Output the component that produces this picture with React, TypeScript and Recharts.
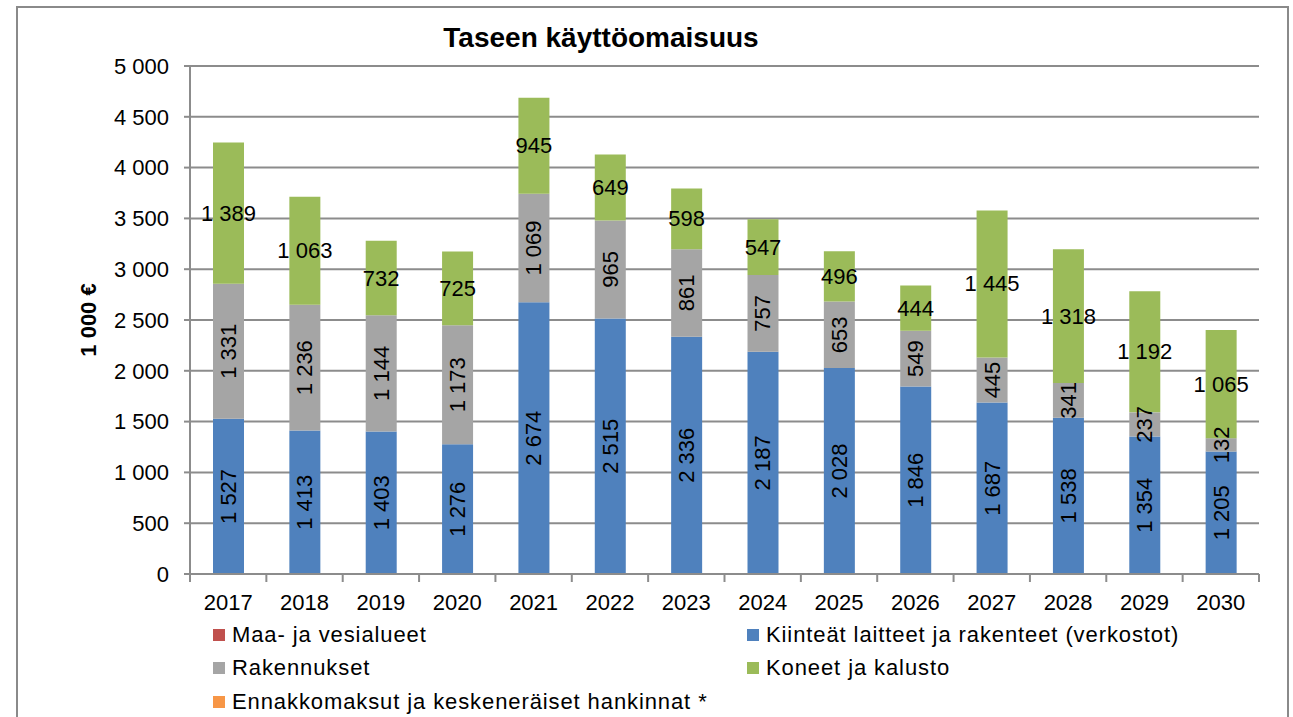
import React from 'react';
import { BarChart, Bar, XAxis, YAxis, CartesianGrid, LabelList } from 'recharts';

const years = ['2017', '2018', '2019', '2020', '2021', '2022', '2023', '2024', '2025', '2026', '2027', '2028', '2029', '2030'];
const maaJaVesialueet = [0, 0, 0, 0, 0, 0, 0, 0, 0, 0, 0, 0, 0, 0];
const kiinteatLaitteet = [1527, 1413, 1403, 1276, 2674, 2515, 2336, 2187, 2028, 1846, 1687, 1538, 1354, 1205];
const rakennukset = [1331, 1236, 1144, 1173, 1069, 965, 861, 757, 653, 549, 445, 341, 237, 132];
const koneetJaKalusto = [1389, 1063, 732, 725, 945, 649, 598, 547, 496, 444, 1445, 1318, 1192, 1065];
const ennakkomaksut = [0, 0, 0, 0, 0, 0, 0, 0, 0, 0, 0, 0, 0, 0];
const yTicks = [0, 500, 1000, 1500, 2000, 2500, 3000, 3500, 4000, 4500, 5000];

const seriesNames = {
  maa: 'Maa- ja vesialueet',
  kiint: 'Kiinteät laitteet ja rakenteet (verkostot)',
  rak: 'Rakennukset',
  kon: 'Koneet ja kalusto',
  enn: 'Ennakkomaksut ja keskeneräiset hankinnat *',
};
const colors = { maa: '#C0504D', kiint: '#4F81BD', rak: '#A5A5A5', kon: '#9BBB59', enn: '#F79646' };

const data = years.map((y, i) => ({
  year: y,
  maa: maaJaVesialueet[i],
  kiint: kiinteatLaitteet[i],
  rak: rakennukset[i],
  kon: koneetJaKalusto[i],
  enn: ennakkomaksut[i],
}));

const FONT = '"Liberation Sans", Arial, sans-serif';
const GRID = '#8c8c8c';

const fmt = (n: number) => {
  const v = Math.round(Number(n));
  if (v >= 1000) return `${Math.floor(v / 1000)} ${String(v % 1000).padStart(3, '0')}`;
  return String(v);
};

const VLabel = (props: any) => {
  const { x, y, width, height, value } = props;
  if (!value) return null;
  const cx = Number(x) + Number(width) / 2;
  const cy = Number(y) + Number(height) / 2;
  return (
    <text x={cx} y={cy} transform={`rotate(-90 ${cx} ${cy})`} textAnchor="middle" dominantBaseline="central"
      fontSize={22} fill="#000" fontFamily={FONT}>{fmt(value)}</text>
  );
};

const HLabel = (props: any) => {
  const { x, y, width, height, value } = props;
  if (!value) return null;
  const cx = Number(x) + Number(width) / 2;
  const cy = Number(y) + Number(height) / 2;
  return (
    <text x={cx} y={cy} textAnchor="middle" dominantBaseline="central"
      fontSize={22} fill="#000" fontFamily={FONT}>{fmt(value)}</text>
  );
};

const XTick = (props: any) => {
  const { x, y, payload, index } = props;
  const half = payload && payload.offset ? payload.offset : 38.2;
  return (
    <g>
      <line x1={x - half} x2={x - half} y1={y} y2={y + 8} stroke={GRID} strokeWidth={2} />
      {index === years.length - 1 && (
        <line x1={x + half} x2={x + half} y1={y} y2={y + 8} stroke={GRID} strokeWidth={2} />
      )}
      <text x={x} y={y + 28} textAnchor="middle" dominantBaseline="central" fontSize={22} fill="#000" fontFamily={FONT}>
        {payload.value}
      </text>
    </g>
  );
};

const legendItems: [keyof typeof colors, number, number][] = [
  ['maa', 213, 635],
  ['kiint', 747, 635],
  ['rak', 213, 668],
  ['kon', 747, 668],
  ['enn', 213, 702],
];

export default function App() {
  return (
    <div style={{ position: 'absolute', left: 0, top: 0, width: 1293, height: 717, background: '#fff', overflow: 'hidden', fontFamily: FONT }}>
      <div style={{ position: 'absolute', left: 16, top: 6, width: 1273, height: 760, border: '2px solid #8a8a8a', boxSizing: 'border-box' }} />
      <div style={{ position: 'absolute', left: 0, width: 1202, top: 23, lineHeight: '30px', textAlign: 'center', fontWeight: 'bold', fontSize: 28, color: '#000' }}>
        Taseen käyttöomaisuus
      </div>
      <div style={{ position: 'absolute', left: 0, top: 0 }}>
        <BarChart width={1293} height={717} data={data} margin={{ top: 66, right: 34, bottom: 113, left: 0 }}>
          <CartesianGrid vertical={false} stroke={GRID} strokeWidth={2} />
          <XAxis dataKey="year" height={30} tickLine={false} tickSize={0} tickMargin={0} axisLine={{ stroke: GRID, strokeWidth: 2 }}
            tick={<XTick />} interval={0} />
          <YAxis width={190} domain={[0, 5000]} ticks={yTicks} interval={0} tickFormatter={fmt}
            tickSize={6} tickMargin={15} tickLine={{ stroke: GRID, strokeWidth: 2 }} axisLine={{ stroke: GRID, strokeWidth: 2 }}
            tick={{ fontSize: 22, fill: '#000', fontFamily: FONT }}
            label={{
              content: (p: any) => {
                const vb = p.viewBox || {};
                const cy = (vb.y || 66) + (vb.height || 508) / 2;
                return (
                  <text x={88} y={cy} transform={`rotate(-90 88 ${cy})`} textAnchor="middle" dominantBaseline="central"
                    fontSize={22} fontWeight="bold" fill="#000" fontFamily={FONT}>1 000 €</text>
                );
              },
            }} />
          <Bar dataKey="maa" name={seriesNames.maa} stackId="a" fill={colors.maa} barSize={31} isAnimationActive={false} />
          <Bar dataKey="kiint" name={seriesNames.kiint} stackId="a" fill={colors.kiint} barSize={31} isAnimationActive={false}>
            <LabelList dataKey="kiint" content={<VLabel />} />
          </Bar>
          <Bar dataKey="rak" name={seriesNames.rak} stackId="a" fill={colors.rak} barSize={31} isAnimationActive={false}>
            <LabelList dataKey="rak" content={<VLabel />} />
          </Bar>
          <Bar dataKey="kon" name={seriesNames.kon} stackId="a" fill={colors.kon} barSize={31} isAnimationActive={false}>
            <LabelList dataKey="kon" content={<HLabel />} />
          </Bar>
          <Bar dataKey="enn" name={seriesNames.enn} stackId="a" fill={colors.enn} barSize={31} isAnimationActive={false} />
        </BarChart>
      </div>
      {legendItems.map(([key, lx, ly]) => (
        <div key={key} style={{ position: 'absolute', left: lx, top: ly - 14, height: 28, display: 'flex', alignItems: 'center', whiteSpace: 'nowrap' }}>
          <span style={{ display: 'inline-block', width: 12, height: 12, background: colors[key], marginRight: 7 }} />
          <span style={{ fontSize: 22, letterSpacing: 0.9, color: '#000', lineHeight: '28px' }}>{seriesNames[key]}</span>
        </div>
      ))}
    </div>
  );
}
